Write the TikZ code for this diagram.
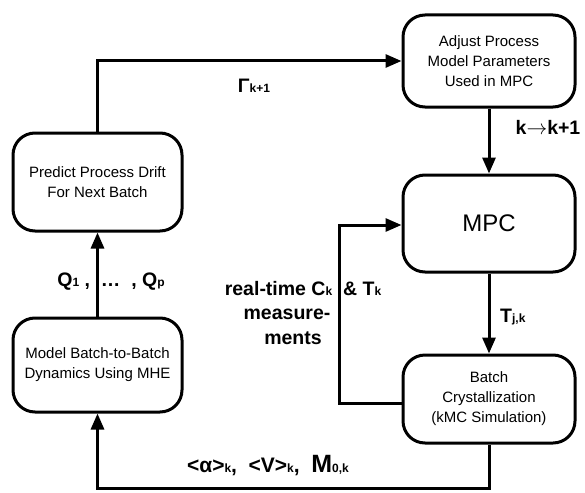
\documentclass[tikz,border=0pt]{standalone}
\usepackage{fontspec}
\setmainfont{Liberation Sans}
\usetikzlibrary{arrows.meta}
\newcommand\lowsub[1]{{\fontsize{12}{12}\selectfont #1}}
\tikzset{
  procbox/.style={draw=black, line width=3pt, rounded corners=22pt, align=center,
    font=\fontsize{15}{20}\selectfont, inner sep=0pt},
  flow/.style={line width=3pt, -{Triangle[length=16pt,width=13pt]}},
  lbl/.style={font=\fontsize{19.5}{22}\selectfont\bfseries, inner sep=0pt}
}
\begin{document}
\begin{tikzpicture}[x=1pt,y=-1pt]
\useasboundingbox (0,0) rectangle (585,492);
\node[procbox, minimum width=169pt, minimum height=98pt] (predict) at (97.5,182) {Predict Process Drift\\For Next Batch};
\node[procbox, minimum width=169pt, minimum height=94pt] (model) at (97.5,365) {Model Batch-to-Batch\\Dynamics Using MHE};
\node[procbox, minimum width=172pt, minimum height=92pt] (adjust) at (489,61) {Adjust Process\\Model Parameters\\Used in MPC};
\node[procbox, minimum width=172pt, minimum height=97pt, font=\fontsize{24}{28}\selectfont] (mpc) at (489,223.5) {MPC};
\node[procbox, minimum width=172pt, minimum height=88pt] (batch) at (489,399) {Batch\\Crystallization\\(kMC Simulation)};

\coordinate (fbx) at (339,403);
\coordinate (fbtop) at (339,225);
\coordinate (bot) at (489,488);
\coordinate (botl) at (97.5,488);

\draw[flow] (predict.north) |- (adjust.west);
\draw[flow] (adjust.south) -- (mpc.north);
\draw[flow] (mpc.south) -- (batch.north);
\draw[flow] (batch.west |- fbx) -- (fbx) -- (fbtop) -- (mpc.west |- fbtop);
\draw[flow] (batch.south) -- (bot) -- (botl) -- (model.south);
\draw[flow] (model.north) -- (predict.south);

\node[lbl] (gam) at (254,86) {Γ\lowsub{k+1}};
\node[lbl] (kk) at (548,127) {k$\rightarrow$k+1};
\node[lbl, anchor=west] (tjk) at (500,317) {T\lowsub{j,k}};
\node[lbl] (q) at (111,282) {Q\lowsub{1} ,\ \ \dots\ \ , Q\lowsub{p}};
\node[lbl] (rt1) at (303,289) {real-time C\lowsub{k}\ \ \& T\lowsub{k}};
\node[lbl] (rt2) at (287,314) {measure-};
\node[lbl] (rt3) at (293,338) {ments};
\node[lbl, font=\fontsize{21}{22}\selectfont\bfseries] (meas) at (268,466) {<α>\lowsub{k},\ \ <V>\lowsub{k},\ \ {\fontsize{25}{25}\selectfont M}\lowsub{0,k}};
\end{tikzpicture}
\end{document}
